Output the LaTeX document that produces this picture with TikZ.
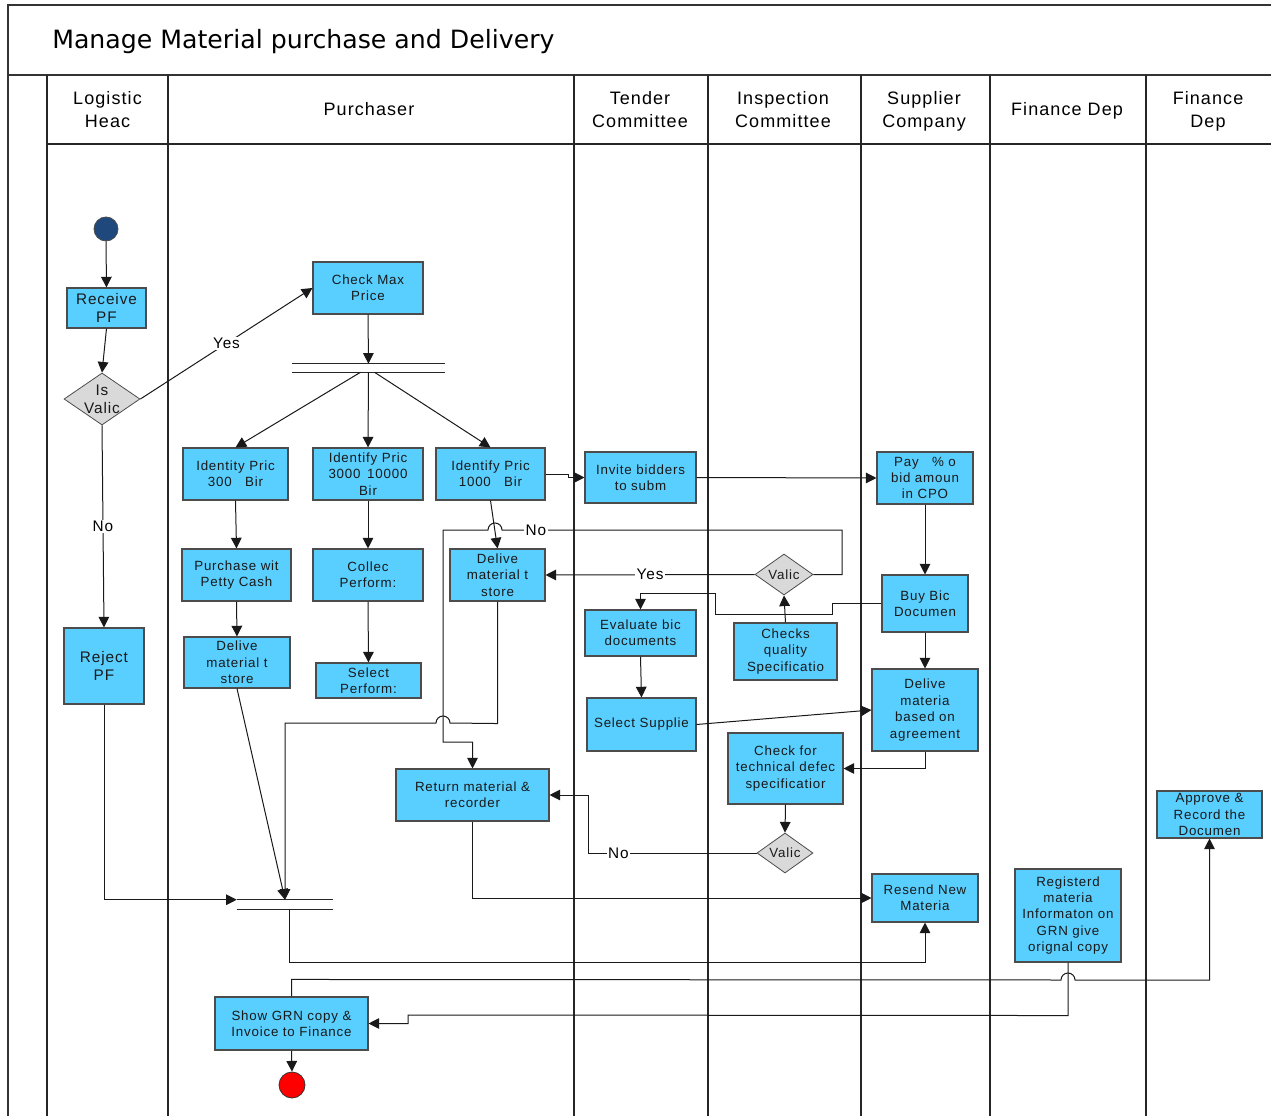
\documentclass[tikz,border=0pt]{standalone}
\usepackage{fontspec}
\setmainfont{Liberation Sans}[LetterSpace=6]
\newfontfamily\titlefont{DejaVu Sans}
\usetikzlibrary{arrows.meta,shapes.geometric,calc}

\definecolor{boxblue}{RGB}{88,207,255}
\definecolor{decgray}{RGB}{217,217,217}
\definecolor{startblue}{RGB}{31,73,125}

\begin{document}
\begin{tikzpicture}[x=0.75pt,y=-0.75pt,
  sz/.style 2 args={minimum width=#1*0.75pt, minimum height=#2*0.75pt},
  box/.style={draw=black!70, line width=0.8pt, fill=boxblue, inner sep=0pt,
    align=center, text=black!90, font=\fontsize{10}{12.3}\selectfont},
  bigtext/.style={font=\fontsize{11.5}{13.5}\selectfont},
  dec/.style={diamond, draw=black!70, line width=0.6pt, fill=decgray, inner sep=0pt},
  dtext/.style={align=center, inner sep=0pt, text=black!90, font=\fontsize{10}{12.3}\selectfont},
  frame/.style={draw=black!80, line width=1.1pt},
  lane/.style={draw=black!85, line width=1.1pt},
  head/.style={align=center, font=\fontsize{13.5}{17.3}\selectfont},
  conn/.style={draw=black!90, line width=0.75pt, -{Triangle[length=8pt,width=8pt]}},
  lbl/.style={fill=white, inner sep=1pt, font=\fontsize{11.5}{13}\selectfont},
  barline/.style={draw=black!85, line width=0.9pt}]

\useasboundingbox (0,0) rectangle (1271,1116);

% frame and swimlanes
\draw[frame] (8,1116) -- (8,5) -- (1271,5);
\draw[frame] (8,75) -- (1271,75);
\foreach \x in {47,168,574,708,861,990,1146}
  \draw[lane] (\x,75) -- (\x,1116);
\draw[lane] (47,144) -- (1271,144);

\node[anchor=base west, inner sep=0pt, font=\titlefont\fontsize{18.9}{22}\selectfont] (title) at (52,49)
  {Manage Material purchase and Delivery};

\node[head] (hLog) at (107.5,111) {\strut Logistic\\Heac\strut};
\node[head] (hPur) at (369,110.5) {\strut Purchaser\strut};
\node[head] (hTen) at (640,111) {\strut Tender\\Committee\strut};
\node[head] (hIns) at (783,111) {\strut Inspection\\Committee\strut};
\node[head] (hSup) at (924,111) {\strut Supplier\\Company\strut};
\node[head] (hFin) at (1067,110.5) {\strut Finance Dep\strut};
\node[head] (hFin2) at (1208,111) {\strut Finance\\Dep\strut};

% start and end
\node[circle, draw=black!70, line width=0.6pt, fill=startblue, minimum size=18pt, inner sep=0pt] (start) at (106,229) {};
\node[circle, draw=black!80, line width=0.6pt, fill=red, minimum size=19.5pt, inner sep=0pt] (finish) at (292,1085) {};

% activities and decisions
\node[box, bigtext, sz={79}{40}] (recv) at (106.5,308) {Receive\\PF};
\node[dec, sz={76}{52}, label={[dtext, bigtext]center:Is\\Valic}] (valid1) at (102,399) {};
\node[box, bigtext, sz={80}{76}] (reject) at (104,666) {Reject\\PF};
\node[box, sz={110}{52}] (chk) at (368,288) {Check Max\\Price};

\node[sz={153}{8}, inner sep=0pt] (fork1) at (368.5,368) {};
\draw[barline] (fork1.north west) -- (fork1.north east);
\draw[barline] (fork1.south west) -- (fork1.south east);

\node[box, sz={105}{52}] (id300) at (235.5,474) {Identity Pric\\300\quad Bir};
\node[box, sz={110}{52}] (id3000) at (368,474) {Identify Pric\\3000\enspace 10000\\Bir};
\node[box, sz={109}{52}] (id1000) at (490.5,474) {Identify Pric\\1000\quad Bir};
\node[box, sz={111}{51}] (invite) at (640.5,477.5) {Invite bidders\\to subm};
\node[box, sz={96}{52}] (pay) at (925,478) {Pay\quad \% o\\bid amoun\\in CPO};

\node[box, sz={109}{52}] (petty) at (236.5,575) {Purchase wit\\Petty Cash};
\node[box, sz={110}{52}] (collec) at (368,575) {Collec\\Perform:};
\node[box, sz={95}{52}] (del2) at (497.5,575) {Delive\\material t\\store};
\node[dec, sz={58}{41}, label={[dtext]center:Valic}] (valid2) at (784,574.5) {};
\node[box, sz={86}{57}] (buy) at (925,603.5) {Buy Bic\\Documen};

\node[box, sz={106}{51}] (del1) at (237,662.5) {Delive\\material t\\store};
\node[box, sz={105}{35}] (selperf) at (368.5,680.5) {Select\\Perform:};
\node[box, sz={111}{46}] (eval) at (640.5,633) {Evaluate bic\\documents};
\node[box, sz={103}{57}] (chkq) at (785.5,651.5) {Checks\\quality\\Specificatio};
\node[box, sz={109}{53}] (selsup) at (641.5,724.5) {Select Supplie};
\node[box, sz={106}{82}] (agree) at (925,710) {Delive\\materia\\based on\\agreement};

\node[box, sz={115}{71}] (techchk) at (785.5,768.5) {Check for\\technical defec\\specificatior};
\node[box, sz={153}{52}] (ret) at (472.5,795) {Return material \&\\recorder};
\node[dec, sz={56}{40}, label={[dtext]center:Valic}] (valid3) at (785,853) {};
\node[box, sz={105}{47}] (approve) at (1209.5,814.5) {Approve \&\\Record the\\Documen};
\node[box, sz={106}{48}] (resend) at (925,898) {Resend New\\Materia};
\node[box, sz={106}{93}] (reg) at (1068,915.5) {Registerd\\materia\\Informaton on\\GRN give\\orignal copy};

\node[sz={96}{9}, inner sep=0pt] (join) at (285,904.5) {};
\draw[barline] (join.north west) -- (join.north east);
\draw[barline] (join.south west) -- (join.south east);

\node[box, sz={153}{53}] (showgrn) at (291.5,1023.5) {Show GRN copy \&\\Invoice to Finance};

% flow
\draw[conn] (start.south) -- (recv.north);
\draw[conn] (recv.south) -- (valid1.north);
\draw[conn] (valid1.east) -- node[lbl]{Yes} (chk.west);
\draw[conn] (valid1.south) -- node[lbl]{No} (reject.north);
\draw[conn] (chk.south) -- (fork1.north);
\draw[conn] ($(fork1.south)+(-8,0)$) -- (id300.north);
\draw[conn] (fork1.south) -- (id3000.north);
\draw[conn] ($(fork1.south)+(6,0)$) -- (id1000.north);

\draw[conn] (id300.south) -- (petty.north);
\draw[conn] (petty.south) -- (del1.north);
\draw[conn] (del1.south) -- (join.north);
\draw[conn] (id3000.south) -- (collec.north);
\draw[conn] (collec.south) -- (selperf.north);
\draw[conn] (id1000.south) -- (del2.north);
\draw[conn] (id1000.east) -- ++(23,0) |- (invite.west);
\draw[conn] (invite.east) -- (pay.west);
\draw[conn] (pay.south) -- (buy.north);
\draw[conn] (buy.south) -- (agree.north);
\draw[conn] (buy.west) -- (832,603.5) -- (832,614) -- (715,614) -- (715,593) -| (eval.north);
\draw[conn] (eval.south) -- (selsup.north);
\draw[conn] (selsup.east) -- (agree.west);
\draw[conn] (chkq.north) -- (valid2.south);
\draw[conn] (valid2.west) -- node[lbl]{Yes} (del2.east);
\draw[conn] (valid2.east) -- (842,574.5) -- (842,530)
  -- node[lbl,pos=0.9]{No} (502,530) arc[start angle=0,end angle=180,radius=5.25pt]
  -- (443,530) -- (443,742) -| (ret.north);
\draw[conn] (del2.south) -- ++(0,122) -- (450,723)
  arc[start angle=0,end angle=180,radius=5.25pt] -- (285,723) -- (join.north);
\draw[conn] (agree.south) |- (techchk.east);
\draw[conn] (techchk.south) -- (valid3.north);
\draw[conn] (valid3.west) -- node[lbl,pos=0.82]{No} (588,853) |- (ret.east);
\draw[conn] (ret.south) |- (resend.west);
\draw[conn] (reject.south) |- (join.north west);
\draw[conn] ($(join.south)+(4,0)$) -- ++(0,53) -| (resend.south);
\draw[conn] (showgrn.north) -- ++(0,-17) -- (1061,980)
  arc[start angle=180,end angle=0,radius=5.25pt] -| (approve.south);
\draw[conn] (reg.south) -- ++(0,53) -- (408,1015) |- (showgrn.east);
\draw[conn] (showgrn.south) -- (finish.north);

\end{tikzpicture}
\end{document}
